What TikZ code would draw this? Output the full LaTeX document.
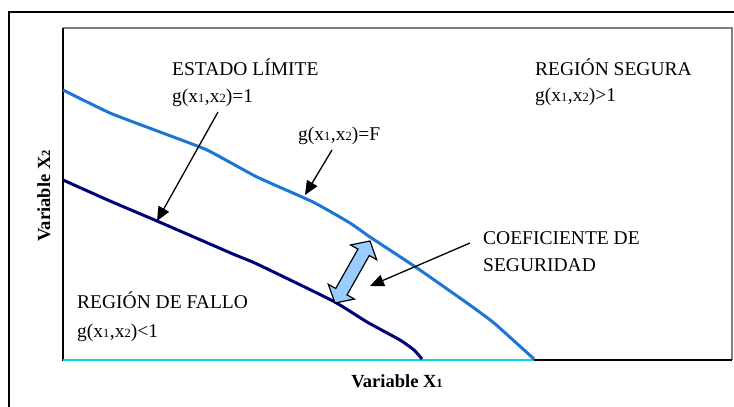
\documentclass[tikz,border=0pt]{standalone}
\usepackage{fontspec}
\setmainfont{Liberation Serif}
\usetikzlibrary{arrows.meta}
\definecolor{lblue}{RGB}{28,118,210}
\definecolor{navy}{RGB}{0,0,120}
\definecolor{axcyan}{RGB}{0,215,230}
\definecolor{arrfill}{RGB}{153,204,255}
\definecolor{frgray}{RGB}{128,128,128}
\newcommand{\smd}[1]{{\fontsize{12.5}{12.5}\selectfont #1}}
\newcommand{\gxx}[1]{g(x\smd{1}\kern0.5pt,x\smd{2})#1}
\tikzset{
  lbl/.style={anchor=base west, inner sep=0pt, font=\fontsize{19.5}{23}\selectfont},
  axlbl/.style={anchor=base, inner sep=0pt, font=\fontsize{18.5}{22}\selectfont\bfseries},
  curveF/.style={draw=lblue, line width=3pt, line join=round},
  curveL/.style={draw=navy, line width=3pt, line join=round},
  ptr/.style={draw=black, line width=1.3pt, -{Triangle[length=14pt,width=12pt]}},
}
\begin{document}
\begin{tikzpicture}[x=1pt,y=-1pt]
\useasboundingbox (0,0) rectangle (734,407);
% outer frame
\draw[line width=2.6pt] (9,420) -- (9,12) -- (745,12);
% plot area
\draw[frgray, line width=1.6pt] (63,28) -- (732,28) -- (732,360);
\draw[black, line width=1.6pt] (534,360) -- (732,360);
\draw[black, line width=1.8pt] (63,361) -- (63,28);
\draw[axcyan, line width=2pt] (63,360) -- (534,360);
% curves
\draw[curveF] plot[smooth, tension=0.3] coordinates {(63,90) (110,113) (160,132) (207,150) (257,177) (313,202) (350,223) (370,237) (417,268) (467,303) (494,323) (534,359)};
\draw[curveL] plot[smooth, tension=0.3] coordinates {(63,180) (110,201) (157,221) (233,254) (257,264) (333,301) (367,322) (400,340) (414,350) (422,359)};
% double arrow (coeficiente de seguridad)
\draw[fill=arrfill, line width=1.2pt, line join=miter]
  (370,241) -- (376.67,259.69) -- (369.27,255.52) -- (347.05,294.88) -- (354.45,299.05)
  -- (335,303) -- (328.33,284.31) -- (335.73,288.48) -- (357.95,249.12) -- (350.55,244.95) -- cycle;
% labels
\node[lbl] (estado) at (172,75) {ESTADO LÍMITE};
\node[lbl] (g1) at (172,102) {\gxx{=1}};
\node[lbl] (gF) at (298,140) {\gxx{=F}};
\node[lbl] (segura) at (535,75) {REGIÓN SEGURA};
\node[lbl] (gs) at (535,101) {\gxx{>1}};
\node[lbl] (fallo) at (77,308) {REGIÓN DE FALLO};
\node[lbl] (gf) at (77,337) {\gxx{<1}};
\node[lbl] (coef) at (483,244) {COEFICIENTE DE};
\node[lbl] (segur) at (483,271) {SEGURIDAD};
\node[axlbl] (xone) at (397,387) {Variable X\smd{1}};
\node[axlbl, rotate=90] (xtwo) at (50,196) {Variable X\smd{2}};
% pointer arrows
\coordinate (aS) at (218,112);
\coordinate (aT) at (157,221);
\coordinate (bS) at (332,150);
\coordinate (bT) at (305,195);
\coordinate (cS) at (470,243);
\coordinate (cT) at (370,286);
\draw[ptr] (aS) -- (aT);
\draw[ptr] (bS) -- (bT);
\draw[ptr] (cS) -- (cT);
\end{tikzpicture}
\end{document}
